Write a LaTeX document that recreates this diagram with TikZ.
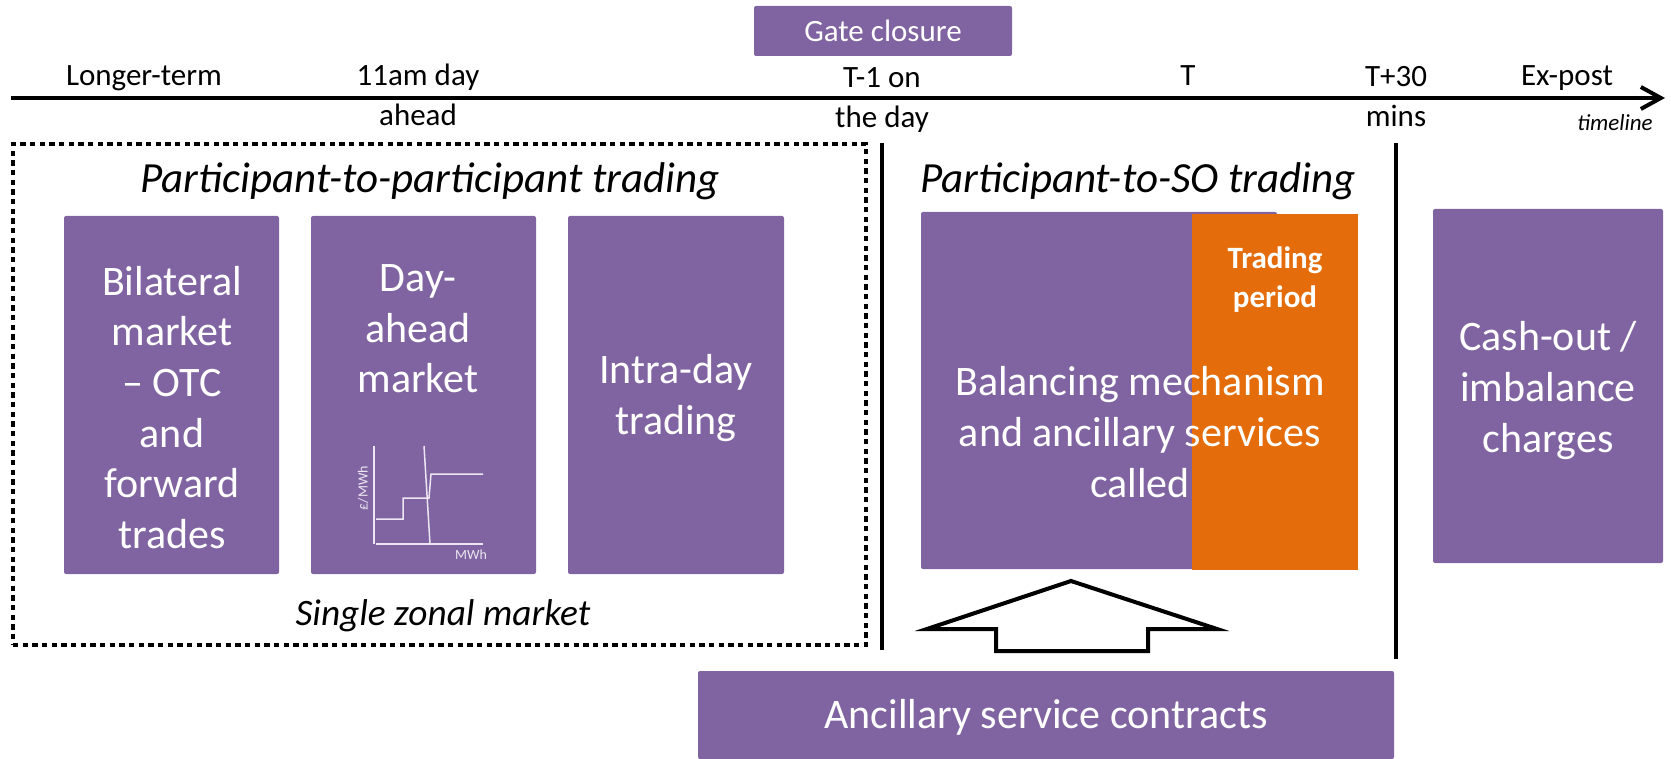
\documentclass[tikz,border=0pt]{standalone}
\usepackage{fontspec}
\setmainfont{Carlito}
\usetikzlibrary{arrows.meta,fit}
\definecolor{vpurple}{HTML}{8064A2}
\definecolor{vorange}{HTML}{E46C0A}
\definecolor{chartline}{HTML}{ECE6F2}
\newcommand\fsz[2]{\fontsize{#1}{#2}\selectfont}
\begin{document}
\begin{tikzpicture}[x=0.3pt,y=-0.3pt,
  tlabel/.style={font=\fsz{9.3}{12}, align=center, inner sep=0pt},
  boxfill/.style={fill=vpurple, draw=none, rounded corners=0.6pt, inner sep=0pt},
  boxtext/.style={text=white, font=\fsz{12.6}{15.2}, align=center, inner sep=0pt},
  heading/.style={font=\fsz{12.9}{15}\itshape, inner sep=0pt},
  chartln/.style={draw=chartline, line width=0.45pt},
  divider/.style={line width=1.35pt},
  dotframe/.style={draw, line width=1.45pt, dash pattern=on 1.6pt off 1.3pt, inner sep=0pt},
  hollowarrow/.style={draw, fill=white, line width=1.2pt, line join=miter}
]
\useasboundingbox (0,0) rectangle (1671,759);

% gate closure
\node[boxfill, minimum width=77.4pt, minimum height=15pt, text=white, font=\fsz{9.3}{11.1}] (gate) at (883,31) {Gate closure};

% timeline
\coordinate (tl0) at (11,98);
\coordinate (tl1) at (1665,98);
\draw[line width=1.2pt, -{Straight Barb[length=6pt,width=6.6pt,line width=1.2pt]}] (tl0) -- (tl1);

\node[tlabel, anchor=base] (lterm) at (144,86) {Longer-term};
\node[tlabel] (t11) at (418,95.3) {11am day\\ahead};
\node[tlabel] (tm1) at (882,100) {T-1 on\\the day};
\node[tlabel, anchor=base] (tT) at (1188,86) {T};
\node[tlabel] (t30) at (1396,96.2) {T+30\\mins};
\node[tlabel, anchor=base] (expost) at (1567,86) {Ex-post};
\node[font=\fsz{6.9}{8}\itshape, inner sep=0pt, anchor=base] (tlword) at (1615,131) {timeline};

% participant-to-participant frame
\node[dotframe, fit={(13,144) (866,645)}] (p2p) {};
\node[heading] (h1) at (430,181.5) {Participant-to-participant trading};
\node[heading, font=\fsz{11.2}{13}\itshape] (szm) at (443,616) {Single zonal market};

% boxes
\node[boxfill, fit={(64,216) (279,574)}] (b1) {};
\node[boxtext] (b1t) at (172,407.5) {Bilateral\\market\\– OTC\\and\\forward\\trades};

\node[boxfill, fit={(311,216) (536,574)}] (b2) {};
\node[boxtext] (b2t) at (418,329) {Day-\\ahead\\market};
\draw[chartln] (374,446) -- (374,544);
\draw[chartln] (376,544) -- (483,544);
\draw[chartln] (424,446) -- (430,544);
\draw[chartln] (376,519) -- (403,519) -- (403,498) -- (429,498) -- (431,474) -- (483,474);
\node[text=chartline, font=\fsz{4.2}{5}, rotate=90, inner sep=0pt] (ylab) at (363,488) {£/MWh};
\node[text=chartline, font=\fsz{4.2}{5}, inner sep=0pt] (xlab) at (471,555) {MWh};

\node[boxfill, fit={(568,216) (784,574)}] (b3) {};
\node[boxtext] (b3t) at (676,398) {Intra-day\\trading};

% dividers
\coordinate (d1a) at (882,143);
\coordinate (d1b) at (882,650);
\coordinate (d2a) at (1396,143);
\coordinate (d2b) at (1396,659);
\draw[divider] (d1a) -- (d1b);
\draw[divider] (d2a) -- (d2b);

% participant-to-SO
\node[heading] (h2) at (1138,181.5) {Participant-to-SO trading};
\node[boxfill, fit={(921,212) (1277,569)}] (b4) {};
\node[fill=vorange, inner sep=0pt, fit={(1192,214) (1358,570)}] (tp) {};
\node[text=white, font=\fsz{9.3}{11.7}\bfseries, align=center, inner sep=0pt] (tpt) at (1275,280) {Trading\\period};
\node[boxtext, font=\fsz{12.6}{15.3}] (b4t) at (1140,432) {Balancing mechanism\\and ancillary services\\called};

% cash-out
\node[boxfill, fit={(1433,209) (1663,563)}] (b5) {};
\node[boxtext] (b5t) at (1548,390.5) {Cash-out /\\imbalance\\charges};

% ancillary contracts
\node[boxfill, fit={(698,671) (1394,759)}] (anc) {};
\node[text=white, font=\fsz{12.6}{15}, inner sep=0pt] (anct) at (1046,717) {Ancillary service contracts};

% hollow block arrow
\draw[hollowarrow] (1071,581) -- (1217,629) -- (1148,629) -- (1148,651) -- (996,651) -- (996,629) -- (927,629) -- cycle;
\end{tikzpicture}
\end{document}
